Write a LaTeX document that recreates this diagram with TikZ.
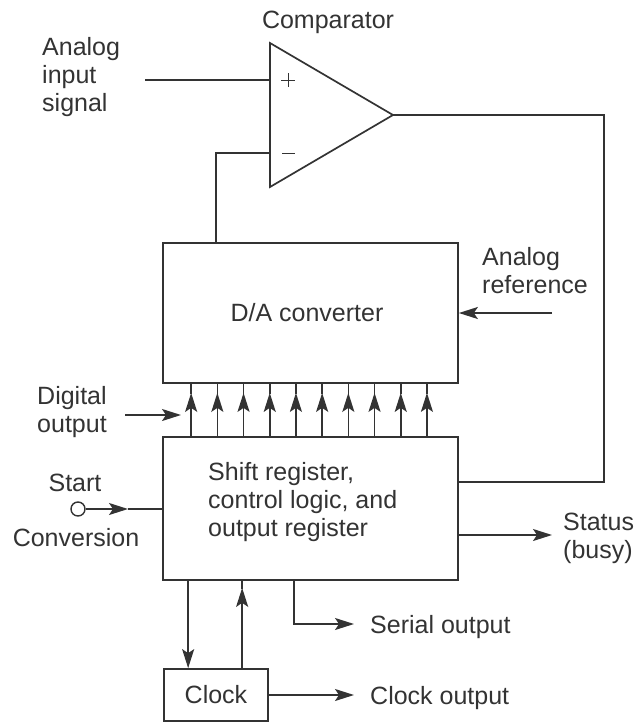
\documentclass[tikz,border=0pt]{standalone}
\usepackage{fontspec}
\setmainfont{Liberation Sans}
\usetikzlibrary{arrows.meta,calc}

\definecolor{ink}{gray}{0.2}

\tikzset{
  wire/.style={draw=ink, line width=1.7pt},
  head/.tip={Stealth[length=19pt,width=12pt,inset=4pt]},
  tip/.style={-head},
  block/.style={draw=ink, line width=1.7pt, rectangle, inner sep=0pt},
  lbl/.style={inner sep=0pt, text=ink, font=\fontsize{25}{28}\selectfont},
  sign/.style={draw=ink, line width=1pt},
}

\begin{document}
\begin{tikzpicture}[x=1pt,y=-1pt]
  \useasboundingbox (0,0) rectangle (637,724);

  % --- blocks ---
  \node[block, minimum width=295pt, minimum height=140pt] (da) at (310.5,313) {};
  \node[block, minimum width=295pt, minimum height=143pt] (sr) at (310.5,508.5) {};
  \node[block, minimum width=104pt, minimum height=52pt] (clk) at (216,695) {};

  % --- comparator triangle ---
  \coordinate (cmpT) at (270,43);
  \coordinate (cmpB) at (270,187);
  \coordinate (cmpO) at (393,115);
  \coordinate (cmpP) at (270,80);
  \coordinate (cmpM) at (270,153);
  \draw[wire, line join=miter] (cmpT) -- (cmpO) -- (cmpB) -- cycle;
  % input polarity signs
  \draw[sign] (281,80) -- (295,80) (288,73) -- (288,87);
  \draw[sign] (282,153) -- (295,153);
  \node[lbl, anchor=base] (cmplbl) at (328,28) {Comparator};

  % --- texts ---
  \node[lbl, anchor=base] (datext) at (307,321) {D/A converter};
  \node[lbl, anchor=north west, align=left] (srtext) at (208,462)
    {Shift register,\\control logic, and\\output register};
  \node[lbl] (clktext) at (clk.center) {Clock};
  \node[lbl, anchor=north west, align=left] (aintext) at (42,37)
    {Analog\\input\\signal};
  \node[lbl, anchor=north west, align=left] (reftext) at (482,247)
    {Analog\\reference};
  \node[lbl, anchor=north west, align=left] (dotext) at (37,386)
    {Digital\\output};
  \node[lbl, anchor=base] (starttext) at (75,491) {Start};
  \node[lbl, anchor=base] (convtext) at (76,546) {Conversion};
  \node[lbl, anchor=north west, align=left] (stattext) at (563,513)
    {Status\\(busy)};
  \node[lbl, anchor=base west] (sertext) at (370,633) {Serial output};
  \node[lbl, anchor=base west] (clkouttext) at (370,704) {Clock output};

  % --- free ends of connectors ---
  \coordinate (ain) at (145,80);
  \coordinate (fb) at (604,482);
  \coordinate (aref) at (552,313);
  \coordinate (doA) at (125,415);
  \coordinate (doB) at (181,415);
  \coordinate (statout) at (552,535);
  \coordinate (serout) at (354,624);
  \coordinate (clkout) at (354,695);
  \coordinate (starttip) at (128,509);
  \node[draw=ink, line width=1.4pt, circle, minimum size=14pt, inner sep=0pt]
    (startpin) at (78,509) {};

  % --- connectors ---
  \draw[wire] (ain) -- (cmpP);
  \draw[wire] (cmpM) -| ([xshift=54pt]da.north west);
  \draw[wire] (cmpO) -| (fb) -- (sr.east |- fb);
  \draw[wire, tip] (aref) -- (da.east);
  \draw[wire, tip] (doA) -- (doB);
  % parallel data lines: arrowhead a little below the D/A block
  \foreach \i in {0,...,9}{
    \draw[wire, tip] ([xshift={29pt+26.2pt*\i}]sr.north west)
      -- ([xshift={29pt+26.2pt*\i}, yshift=-9pt]da.south west);
    \draw[wire] ([xshift={29pt+26.2pt*\i}, yshift=-10pt]da.south west)
      -- ([xshift={29pt+26.2pt*\i}]da.south west);
  }
  \draw[wire, tip] (startpin.east) -- (starttip);
  \draw[wire] (starttip) -- (starttip -| sr.west);
  \draw[wire, tip] (sr.east |- statout) -- (statout);
  \draw[wire, tip] ([xshift=132pt]sr.south west) |- (serout);
  \draw[wire, tip] ([xshift=26pt]sr.south west) -- ([xshift=25pt]clk.north west);
  \draw[wire, tip] ([xshift=79pt]clk.north west) -- ([xshift=80pt, yshift=-7pt]sr.south west);
  \draw[wire] ([xshift=80pt, yshift=-8pt]sr.south west) -- ([xshift=80pt]sr.south west);
  \draw[wire, tip] (clk.east) -- (clkout);
\end{tikzpicture}
\end{document}
